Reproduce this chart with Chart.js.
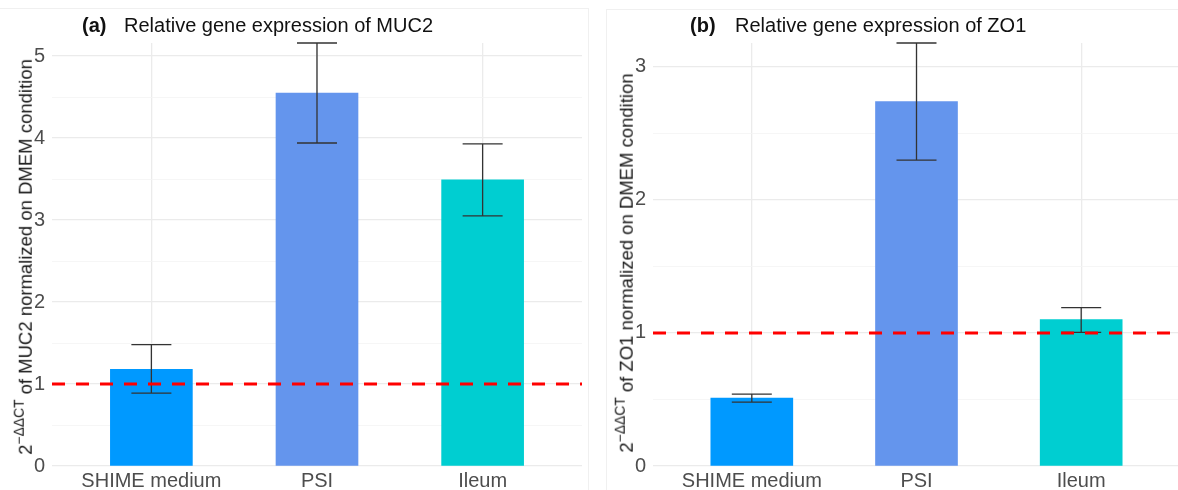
<!DOCTYPE html>
<html>
<head>
  <title>Relative gene expression of MUC2 and ZO1</title>
  <style>
    body {
      margin: 0;
      width: 1178px;
      height: 490px;
      overflow: hidden;
      background: #fff;
      position: relative;
      font-family: Arial, "Liberation Sans", sans-serif;
    }

    .frame {
      position: absolute;
      width: 600px;
      height: 520px;
      border: 1px solid #f0f0f0;
    }

    .panel {
      position: absolute;
      top: 0;
      height: 490px;
    }

    .title {
      position: absolute;
      top: 14px;
      font-size: 20px;
      color: #111;
      white-space: nowrap;
    }

    .title b {
      font-weight: bold;
    }

    .ytitle {
      position: absolute;
      font-size: 18.5px;
      line-height: 1;
      height: 18.5px;
      color: #1a1a1a;
      white-space: nowrap;
      transform: translate(-50%, -50%) rotate(-90deg);
    }

    .ytitle sup {
      font-size: 0.75em;
      vertical-align: baseline;
      position: relative;
      top: -0.55em;
    }
  </style>
</head>
<body>
  <div class="frame" style="left:-13px; top:8px;"></div>
  <div class="frame" style="left:606px; top:9px;"></div>

  <div class="panel" style="left:0; width:589px;">
    <canvas id="chart-a" width="589" height="490"></canvas>
  </div>
  <div class="panel" style="left:590px; width:600px;">
    <canvas id="chart-b" width="600" height="490"></canvas>
  </div>

  <div class="title" style="left:82px;"><b>(a)</b></div>
  <div class="title" style="left:124px;">Relative gene expression of MUC2</div>
  <div class="title" style="left:690px;"><b>(b)</b></div>
  <div class="title" style="left:735px;">Relative gene expression of ZO1</div>

  <div class="ytitle" style="left:26px; top:257px;">2<sup>&minus;ΔΔCT</sup> of MUC2 normalized on DMEM condition</div>
  <div class="ytitle" style="left:627px; top:263px;">2<sup>&minus;ΔΔCT</sup> of ZO1 normalized on DMEM condition</div>

  <script src="https://cdn.jsdelivr.net/npm/chart.js"></script>
  <script>
    // groups on the x axis
    const groups = ["SHIME medium", "PSI", "Ileum"];
    const barColors = ["#0099FF", "#6495ED", "#00CED1"];

    // MUC2 (panel a): mean and error bar ends
    const mucMean = [1.18, 4.55, 3.49];
    const mucLow = [0.89, 3.94, 3.05];
    const mucHigh = [1.48, 5.16, 3.93];
    const mucTicks = [0, 0.5, 1, 1.5, 2, 2.5, 3, 3.5, 4, 4.5, 5];
    const mucMax = 5.16;

    // ZO1 (panel b)
    const zoMean = [0.51, 2.74, 1.1];
    const zoLow = [0.48, 2.3, 1.005];
    const zoHigh = [0.54, 3.18, 1.19];
    const zoTicks = [0, 0.5, 1, 1.5, 2, 2.5, 3];
    const zoMax = 3.18;

    // reference line (DMEM = 1)
    const refLevel = 1;

    // error bars + red dashed reference line
    const errorBars = {
      id: "errorBars",
      afterDatasetsDraw(chart, args, opts) {
        const ctx = chart.ctx;
        const x = chart.scales.x;
        const y = chart.scales.y;
        const area = chart.chartArea;
        ctx.save();
        ctx.strokeStyle = "#333";
        ctx.lineWidth = 1.3;
        opts.low.forEach((lo, i) => {
          const px = x.getPixelForValue(i + 1);
          const y1 = y.getPixelForValue(lo);
          const y2 = y.getPixelForValue(opts.high[i]);
          ctx.beginPath();
          ctx.moveTo(px, y1);
          ctx.lineTo(px, y2);
          ctx.moveTo(px - 20, y1);
          ctx.lineTo(px + 20, y1);
          ctx.moveTo(px - 20, y2);
          ctx.lineTo(px + 20, y2);
          ctx.stroke();
        });
        const ry = y.getPixelForValue(opts.ref);
        ctx.strokeStyle = "#FF0000";
        ctx.lineWidth = 3;
        ctx.setLineDash([13, 11]);
        ctx.beginPath();
        ctx.moveTo(area.left, ry);
        ctx.lineTo(area.right, ry);
        ctx.stroke();
        ctx.restore();
      }
    };

    function makeChart(id, means, low, high, ticks, yMax, axisWidth, padRight) {
      const ctx = document.getElementById(id).getContext("2d");
      return new Chart(ctx, {
        type: "bar",
        data: {
          datasets: [
            {
              data: means.map((v, i) => ({ x: i + 1, y: v })),
              backgroundColor: barColors,
              borderWidth: 0,
              barThickness: 82,
            },
          ],
        },
        options: {
          responsive: false,
          animation: false,
          layout: { padding: { top: 43, right: padRight, left: 0, bottom: 0 } },
          plugins: {
            legend: { display: false },
            tooltip: { enabled: false },
            errorBars: { low: low, high: high, ref: refLevel },
          },
          scales: {
            x: {
              type: "linear",
              min: 0.4,
              max: 3.6,
              offset: false,
              afterBuildTicks: (s) => { s.ticks = groups.map((g, i) => ({ value: i + 1 })); },
              afterFit: (s) => { s.height = 24; },
              border: { display: false },
              grid: { color: "#ebebeb", lineWidth: 1.3, drawTicks: false, offset: false },
              ticks: {
                autoSkip: false,
                maxRotation: 0,
                padding: 3,
                color: "#4d4d4d",
                font: { size: 20, family: "Arial, 'Liberation Sans', sans-serif" },
                callback: (v) => groups[v - 1],
              },
            },
            y: {
              min: 0,
              max: yMax,
              afterBuildTicks: (s) => { s.ticks = ticks.map((v) => ({ value: v })); },
              afterFit: (s) => { s.width = axisWidth; },
              border: { display: false },
              grid: {
                drawTicks: false,
                color: (c) => (c.tick && Number.isInteger(c.tick.value) ? "#ebebeb" : "#f4f4f4"),
                lineWidth: (c) => (c.tick && Number.isInteger(c.tick.value) ? 1.3 : 0.8),
              },
              ticks: {
                autoSkip: false,
                padding: 7,
                color: "#4d4d4d",
                font: { size: 20, family: "Arial, 'Liberation Sans', sans-serif" },
                callback: (v) => (Number.isInteger(v) ? v : ""),
              },
            },
          },
        },
        plugins: [errorBars],
      });
    }

    makeChart("chart-a", mucMean, mucLow, mucHigh, mucTicks, mucMax, 52, 7);
    makeChart("chart-b", zoMean, zoLow, zoHigh, zoTicks, zoMax, 63, 10);
  </script>
</body>
</html>
